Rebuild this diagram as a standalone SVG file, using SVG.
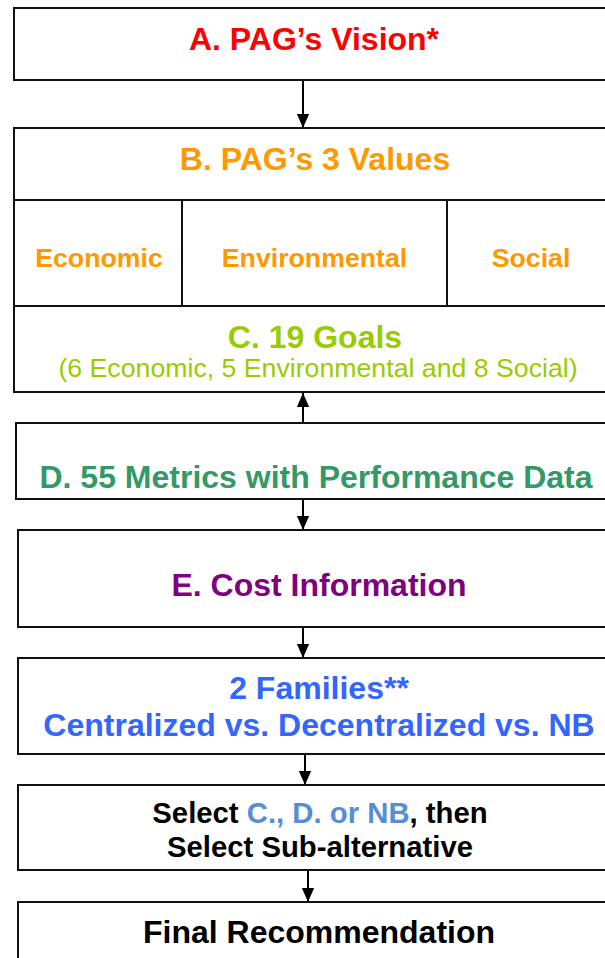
<svg xmlns="http://www.w3.org/2000/svg" width="605" height="958" viewBox="0 0 605 958">
<style>
.box{fill:#fff;stroke:#111;stroke-width:2}
.t{font-family:"Liberation Sans",Arial,sans-serif;font-weight:bold;text-anchor:middle}
.big{font-size:32px}
.mid{font-size:26.7px}
.sel{font-size:29.3px}
.reg{font-family:"Liberation Sans",Arial,sans-serif;font-weight:normal;text-anchor:middle;font-size:26.7px}
.conn{stroke:#000;stroke-width:2;fill:none;marker-end:url(#ah)}
</style>
<defs>
<marker id="ah" markerWidth="14" markerHeight="16" refX="7" refY="16" orient="auto-start-reverse" markerUnits="userSpaceOnUse" viewBox="0 0 14 16">
<path d="M0,0 L14,0 L7,16 Z" fill="#000" transform="rotate(-90 7 8) translate(0 0)"/>
</marker>
<marker id="tri" markerWidth="14" markerHeight="16" refX="16" refY="7" orient="auto" markerUnits="userSpaceOnUse" viewBox="0 0 16 14">
<path d="M0,0 L16,7 L0,14 Z" fill="#000"/>
</marker>
</defs>
<g id="connectors">
<line x1="303" y1="80" x2="303" y2="128" stroke="#000" stroke-width="2" marker-end="url(#tri)"/>
<line x1="303" y1="423" x2="303" y2="393" stroke="#000" stroke-width="2" marker-end="url(#tri)"/>
<line x1="303" y1="499" x2="303" y2="530" stroke="#000" stroke-width="2" marker-end="url(#tri)"/>
<line x1="303" y1="627" x2="303" y2="658" stroke="#000" stroke-width="2" marker-end="url(#tri)"/>
<line x1="305" y1="754" x2="305" y2="785" stroke="#000" stroke-width="2" marker-end="url(#tri)"/>
<line x1="308" y1="870" x2="308" y2="902" stroke="#000" stroke-width="2" marker-end="url(#tri)"/>
</g>
<g id="nodeA">
<rect class="box" x="14" y="8" width="602" height="72"/>
<text class="t big" x="314" y="50" fill="#FF0000">A. PAG’s Vision*</text>
</g>
<g id="nodeB">
<rect class="box" x="14" y="128" width="602" height="72"/>
<text class="t big" x="315" y="170" fill="#FF9900">B. PAG’s 3 Values</text>
</g>
<g id="nodeEconomic">
<rect class="box" x="14" y="200" width="168" height="106"/>
<text class="t mid" x="99" y="267" fill="#FF9900">Economic</text>
</g>
<g id="nodeEnvironmental">
<rect class="box" x="182" y="200" width="265" height="106"/>
<text class="t mid" x="314.5" y="267" fill="#FF9900">Environmental</text>
</g>
<g id="nodeSocial">
<rect class="box" x="447" y="200" width="169" height="106"/>
<text class="t mid" x="531" y="267" fill="#FF9900">Social</text>
</g>
<g id="nodeC">
<rect class="box" x="14" y="306" width="602" height="86"/>
<text class="t big" x="315" y="348" fill="#99CC00">C. 19 Goals</text>
<text class="reg" x="318" y="377" fill="#99CC00">(6 Economic, 5 Environmental and 8 Social)</text>
</g>
<g id="nodeD">
<rect class="box" x="16" y="423" width="602" height="76"/>
<text class="t big" x="316" y="488" fill="#339966">D. 55 Metrics with Performance Data</text>
</g>
<g id="nodeE">
<rect class="box" x="18" y="530" width="602" height="97"/>
<text class="t big" x="319" y="596" fill="#800080">E. Cost Information</text>
</g>
<g id="nodeF">
<rect class="box" x="18" y="658" width="602" height="96"/>
<text class="t big" x="319" y="699" fill="#3366FF">2 Families**</text>
<text class="t big" x="319" y="736" fill="#3366FF">Centralized vs. Decentralized vs. NB</text>
</g>
<g id="nodeG">
<rect class="box" x="18" y="785" width="602" height="85"/>
<text class="t sel" x="320" y="823" fill="#000">Select <tspan fill="#558ED5">C., D. or NB</tspan>, then</text>
<text class="t sel" x="320" y="857" fill="#000">Select Sub-alternative</text>
</g>
<g id="nodeH">
<rect class="box" x="18" y="902" width="602" height="70"/>
<text class="t big" x="319" y="943" fill="#000">Final Recommendation</text>
</g>
</svg>
